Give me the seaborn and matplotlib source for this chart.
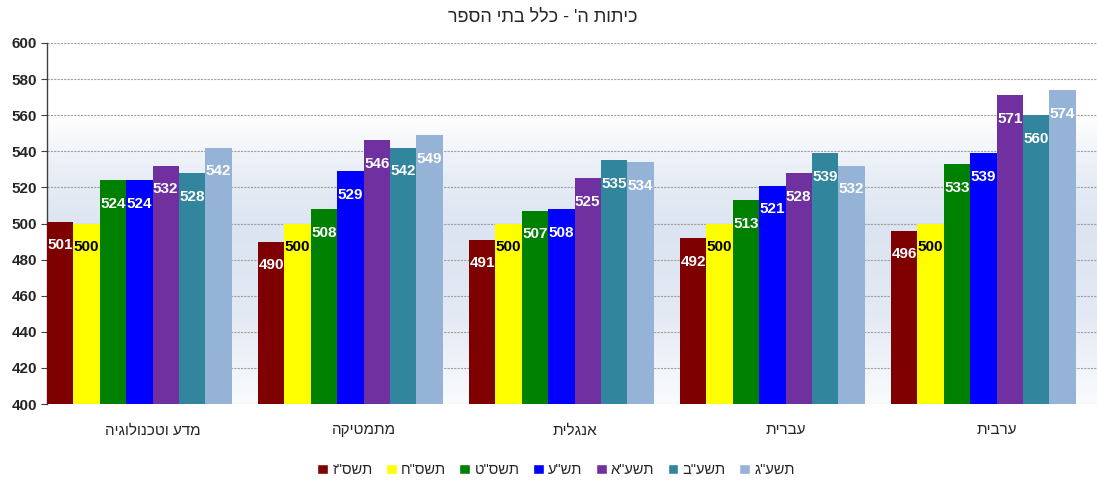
import matplotlib
matplotlib.use("Agg")
import matplotlib.pyplot as plt
import numpy as np
import pandas as pd
import seaborn as sns
from matplotlib.colors import LinearSegmentedColormap
from matplotlib.patches import Patch

# data
title = "כיתות ה' - כלל בתי הספר"
subjects = ["מדע וטכנולוגיה", "מתמטיקה", "אנגלית", "עברית", "ערבית"]
years = ['תשס"ז', 'תשס"ח', 'תשס"ט', 'תש"ע', 'תשע"א', 'תשע"ב', 'תשע"ג']
scores = {
    'תשס"ז': [501, 490, 491, 492, 496],
    'תשס"ח': [500, 500, 500, 500, 500],
    'תשס"ט': [524, 508, 507, 513, 533],
    'תש"ע': [524, 529, 508, 521, 539],
    'תשע"א': [532, 546, 525, 528, 571],
    'תשע"ב': [528, 542, 535, 539, 560],
    'תשע"ג': [542, 549, 534, 532, 574],
}
colors = ["#7f0000", "#ffff00", "#008000", "#0000ff", "#7030a0", "#31859c", "#95b3d7"]
yticks = list(range(400, 601, 20))


def heb(s):
    # matplotlib has no bidi, so flip the hebrew strings by hand
    return s[::-1]


rows = []
for y in years:
    for s, v in zip(subjects, scores[y]):
        rows.append({"subject": s, "year": y, "score": v})
df = pd.DataFrame(rows)

sns.set_style("white")
plt.rcParams["font.family"] = ["Liberation Sans", "DejaVu Sans"]

fig = plt.figure(figsize=(10.97, 4.83), dpi=100)
ax = fig.add_axes([47 / 1097, 79 / 483, 1055 / 1097, 361 / 483])

# background gradient
cmap = LinearSegmentedColormap.from_list(
    "bg", [(0, "#f9fbfd"), (0.3, "#e4eaf4"), (0.6, "#dbe4f0"), (0.8, "#e8eef6"), (1, "#ffffff")]
)
grad = np.linspace(0, 1, 200).reshape(-1, 1)
ax.imshow(grad, cmap=cmap, aspect="auto", origin="lower",
          extent=(-0.4375, 4.5625, 400, 560), zorder=0)

sns.barplot(data=df, x="subject", y="score", hue="year", order=subjects,
            hue_order=years, palette=colors, width=0.875, linewidth=0,
            saturation=1, legend=False, ax=ax, zorder=3)

for cont, col in zip(ax.containers, colors):
    txt_col = "black" if col == "#ffff00" else "white"
    for bar in cont:
        h = bar.get_height()
        ax.annotate(f"{h:.0f}", xy=(bar.get_x() + bar.get_width() / 2, h),
                    xytext=(0, -17), textcoords="offset points",
                    ha="center", va="center", fontsize=11, fontweight="bold",
                    color=txt_col, zorder=5)

ax.set_xlim(-0.4375, 4.5625)
ax.set_ylim(400, 600)
ax.set_yticks(yticks)
ax.set_yticklabels([str(t) for t in yticks], fontsize=11, fontweight="bold")
ax.set_xticks(np.arange(len(subjects)) + 0.0625)
ax.set_xticklabels([heb(s) for s in subjects], fontsize=11)
ax.tick_params(axis="x", length=0, pad=14)
ax.tick_params(axis="y", length=4, color="#404040", pad=3, left=True)
ax.set_xlabel("")
ax.set_ylabel("")

ax.grid(axis="y", color="#a0a0a0", linestyle=(0, (2, 1)), linewidth=0.8)
ax.set_axisbelow(True)
for side in ["top", "right", "bottom"]:
    ax.spines[side].set_visible(False)
ax.spines["left"].set_color("#404040")
ax.spines["left"].set_linewidth(1)

fig.text(543 / 1097, 1 - 17 / 483, heb(title), ha="center", va="center", fontsize=13)

handles = [Patch(facecolor=c, label=heb(y)) for c, y in zip(colors, years)]
fig.legend(handles=handles, loc="center", bbox_to_anchor=(556 / 1097, 1 - 470 / 483),
           ncol=7, frameon=False, fontsize=10.5, handlelength=0.75, handleheight=0.75,
           handletextpad=0.3, columnspacing=0.9)

fig.savefig("out.png", dpi=100)
